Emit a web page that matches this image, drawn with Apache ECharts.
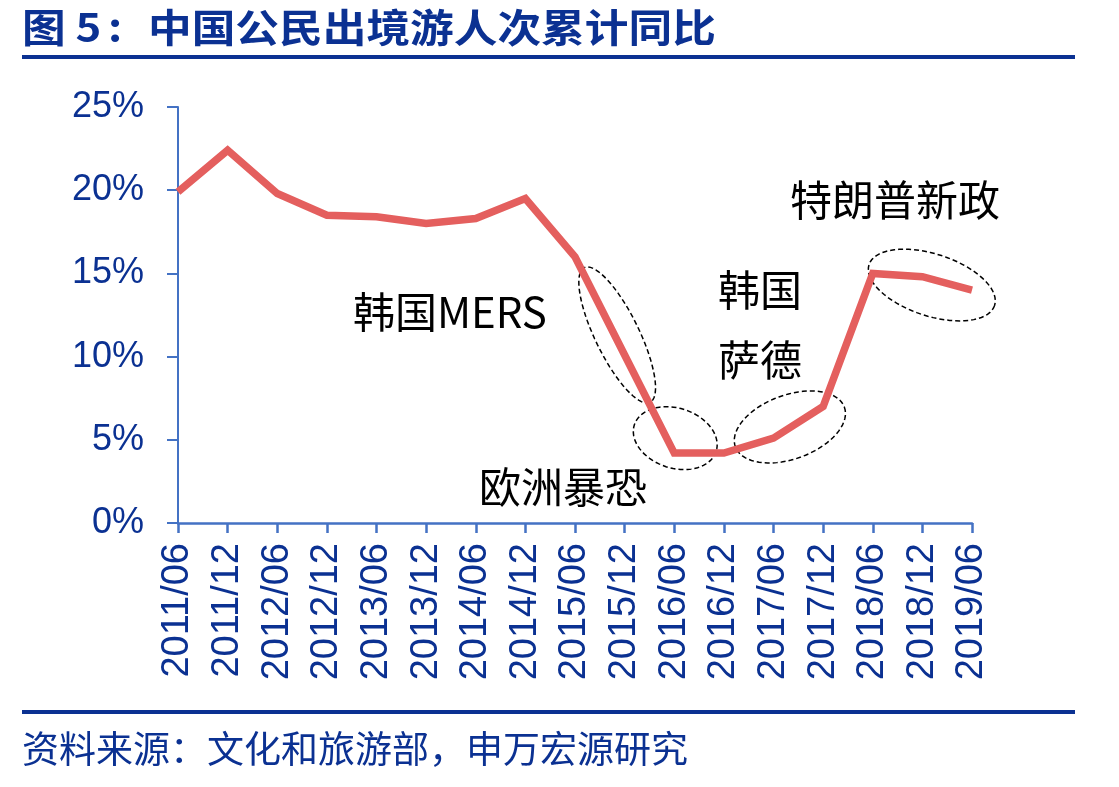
<!DOCTYPE html>
<html>
<head>
<meta charset="utf-8">
<script src="https://cdn.jsdelivr.net/npm/echarts@6/dist/echarts.min.js"></script>
<style>
  html, body { margin: 0; padding: 0; background: #fff; }
  #chart { width: 1119px; height: 787px; }
</style>
</head>
<body>
<div id="chart"></div>
<script>
var categories = ['2011/06', '2011/12', '2012/06', '2012/12', '2013/06', '2013/12',
  '2014/06', '2014/12', '2015/06', '2015/12', '2016/06', '2016/12',
  '2017/06', '2017/12', '2018/06', '2018/12', '2019/06'];
var yoyValues = [19.9, 22.4, 19.8, 18.5, 18.4, 18.0, 18.3, 19.5, 16.0, 10.1, 4.2, 4.2, 5.1, 7.0, 15.0, 14.8, 14.0];
var yTicks = [0, 5, 10, 15, 20, 25];

// annotation texts, anchored at (category index, value)
var notes = [
  { text: '韩国MERS', at: [5.48, 12.68] },
  { text: '欧洲暴恐', at: [7.76, 2.16] },
  { text: '韩国', at: [11.73, 14.0] },
  { text: '萨德', at: [11.73, 9.8] },
  { text: '特朗普新政', at: [14.45, 19.4] }
];
// dashed ellipses: centre (category index, value), radii px, tilt deg
var rings = [
  { at: [8.85, 11.3], rx: 75, ry: 22, tilt: 64 },
  { at: [10.02, 5.1], rx: 43, ry: 30, tilt: 18 },
  { at: [12.33, 5.77], rx: 58, ry: 32, tilt: -20 },
  { at: [15.19, 14.3], rx: 66, ry: 31, tilt: 18 }
];

var blue = '#0b3192';
var axisBlue = '#4472C4';

var chartDom = document.getElementById('chart');
var myChart = echarts.init(chartDom);

var option = {
  animation: false,
  backgroundColor: '#fff',
  grid: { left: 178, right: 147, top: 107, bottom: 264 },
  xAxis: {
    type: 'category',
    data: categories,
    boundaryGap: false,
    axisLine: { lineStyle: { color: axisBlue, width: 2.5 } },
    axisTick: { show: true, length: 10, alignWithLabel: true, lineStyle: { color: axisBlue, width: 2.5 } },
    axisLabel: {
      rotate: 90, interval: 0, margin: 20,
      color: blue, fontSize: 38, fontFamily: 'Liberation Sans'
    },
    splitLine: { show: false }
  },
  yAxis: {
    type: 'value',
    min: yTicks[0],
    max: yTicks[yTicks.length - 1],
    interval: 5,
    axisLine: { show: true, lineStyle: { color: axisBlue, width: 2 } },
    axisTick: { show: true, length: 11, lineStyle: { color: axisBlue, width: 2 } },
    axisLabel: {
      formatter: '{value}%', margin: 34,
      color: blue, fontSize: 36, fontFamily: 'Liberation Sans'
    },
    splitLine: { show: false }
  },
  series: [
    {
      type: 'line',
      data: yoyValues,
      showSymbol: false,
      symbol: 'none',
      lineStyle: { color: '#E45F5E', width: 7.5, join: 'miter' }
    }
  ]
};

myChart.setOption(option);

function toPx(at) {
  var i0 = Math.floor(at[0]), i1 = Math.min(i0 + 1, categories.length - 1);
  var x0 = myChart.convertToPixel({ xAxisIndex: 0 }, i0);
  var x1 = myChart.convertToPixel({ xAxisIndex: 0 }, i1);
  var x = x0 + (at[0] - i0) * (x1 - x0);
  var y = myChart.convertToPixel({ yAxisIndex: 0 }, at[1]);
  return [x, y];
}

function ellipsePoints(c, rx, ry, tilt) {
  var pts = [];
  var th = tilt * Math.PI / 180;
  for (var k = 0; k < 72; k++) {
    var t = k / 72 * Math.PI * 2;
    var ex = rx * Math.cos(t), ey = ry * Math.sin(t);
    pts.push([c[0] + ex * Math.cos(th) - ey * Math.sin(th),
              c[1] + ex * Math.sin(th) + ey * Math.cos(th)]);
  }
  return pts;
}

var titleFont = 'bold 39px "Noto Sans CJK SC"';
var graphics = [
  { type: 'text', x: 22, y: 8, scaleX: 1.12,
    style: { text: '图 5', fill: blue, font: titleFont } },
  { type: 'text', x: 108, y: 8, scaleX: 1.12,
    style: { text: ':', fill: blue, font: titleFont } },
  { type: 'text', x: 148, y: 8, scaleX: 1.12,
    style: { text: '中国公民出境游人次累计同比', fill: blue, font: titleFont } },
  { type: 'rect', shape: { x: 22, y: 55, width: 1053, height: 4 }, style: { fill: blue } },
  { type: 'rect', shape: { x: 22, y: 710, width: 1053, height: 4 }, style: { fill: blue } },
  {
    type: 'text', left: 22, top: 730,
    style: { text: '资料来源：文化和旅游部，申万宏源研究', fill: blue,
      font: '37px "Noto Sans CJK SC"' }
  }
];

notes.forEach(function (n) {
  var p = toPx(n.at);
  graphics.push({
    type: 'text', x: p[0], y: p[1],
    style: { text: n.text, fill: '#000', font: '42px "Noto Sans CJK SC"',
      textAlign: 'center', textVerticalAlign: 'middle' }
  });
});

rings.forEach(function (r) {
  graphics.push({
    type: 'polygon',
    shape: { points: ellipsePoints(toPx(r.at), r.rx, r.ry, r.tilt) },
    style: { fill: 'none', stroke: '#000', lineWidth: 1.5, lineDash: [5, 3] }
  });
});

myChart.setOption({ graphic: graphics });
</script>
</body>
</html>
